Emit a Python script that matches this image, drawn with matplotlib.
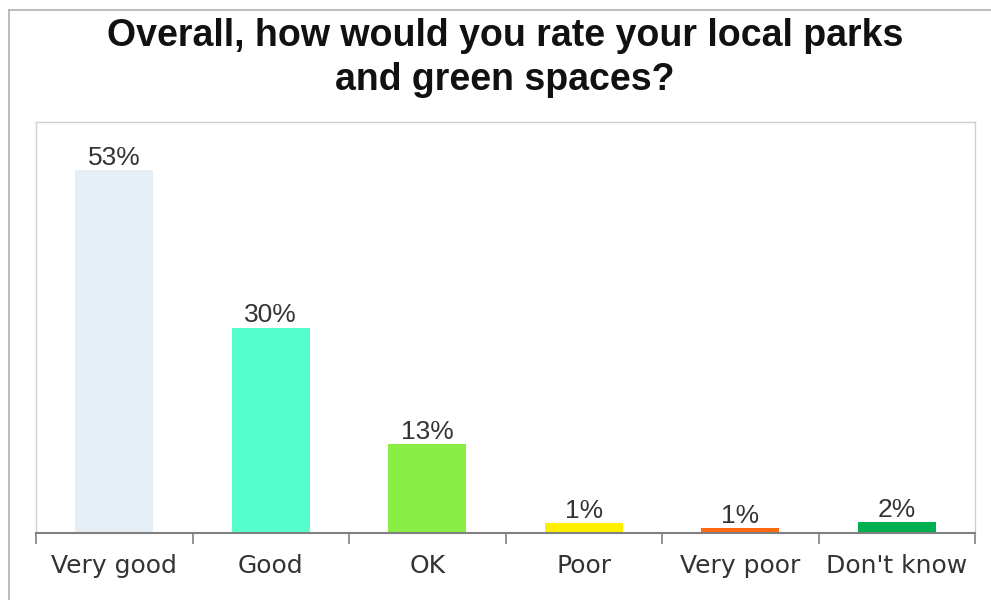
import matplotlib.pyplot as plt
from matplotlib.lines import Line2D

categories = ['Very good', 'Good', 'OK', 'Poor', 'Very poor', "Don't know"]
shares = [53, 30, 13, 1.4, 0.7, 1.6]
colours = ['#E6EEF5', '#55FFCC', '#88EE44', '#FFEE00', '#FF6A10', '#00B050']

W, H = 991, 600
fig = plt.figure(figsize=(W / 100, H / 100), dpi=100)

# outer frame of the chart (runs off the right and bottom edges)
fig.add_artist(Line2D([9 / W, 9 / W], [0, 1 - 10 / H], color='#B0B0B0', lw=1.2, transform=fig.transFigure))
fig.add_artist(Line2D([9 / W, 1], [1 - 10 / H, 1 - 10 / H], color='#B0B0B0', lw=1.2, transform=fig.transFigure))

ax = fig.add_axes([36 / W, (H - 533) / H, 939 / W, 411 / H])
x = range(len(categories))
bars = ax.bar(x, shares, width=0.5, color=colours, zorder=2)

for b, v in zip(bars, shares):
    ax.text(b.get_x() + b.get_width() / 2, v + 0.05, f'{round(v)}%',
            ha='center', va='bottom', fontsize=19, color='#333333',
            family='Liberation Sans')

ax.set_xlim(-0.5, len(categories) - 0.5)
ax.set_ylim(0, 60)
ax.set_yticks([])

ax.set_xticks([i + 0.5 for i in range(-1, len(categories))], minor=False)
ax.set_xticklabels([])
ax.set_xticks(list(x), minor=True)
ax.set_xticklabels(categories, minor=True, fontsize=18, color='#333333', family='DejaVu Sans')
ax.tick_params(axis='x', which='major', direction='out', length=8, width=1.2, color='#808080')
ax.tick_params(axis='x', which='minor', length=0, pad=15)

for side in ['top', 'right', 'left']:
    ax.spines[side].set_color('#D0D0D0')
    ax.spines[side].set_linewidth(1)
ax.spines['bottom'].set_color('#808080')
ax.spines['bottom'].set_linewidth(1.5)

fig.text(505 / W, 1 - 58 / H, 'Overall, how would you rate your local parks\nand green spaces?',
         ha='center', va='center', fontsize=27, fontweight='bold', family='Liberation Sans',
         linespacing=1.25, color='#111111')

fig.savefig('out.png', dpi=100)
